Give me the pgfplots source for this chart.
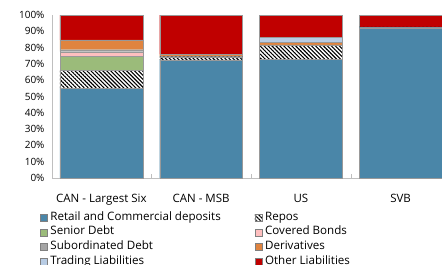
\documentclass[border=0pt]{standalone}
\usepackage{pgfplots}
\pgfplotsset{compat=1.18}
\usepackage{fontspec}
\setmainfont{Open Sans}
\usetikzlibrary{patterns.meta}
\definecolor{cRetail}{HTML}{4A86A8}
\definecolor{cSenior}{HTML}{9BBB7A}
\definecolor{cCovered}{HTML}{FFBFBF}
\definecolor{cSub}{HTML}{A5A5A5}
\definecolor{cDeriv}{HTML}{E0843F}
\definecolor{cTrading}{HTML}{B8CCE4}
\definecolor{cOther}{HTML}{C00000}
\definecolor{cAxis}{HTML}{BFBFBF}
\begin{document}
\begin{tikzpicture}
\begin{axis}[
  at={(0,0)}, anchor=south west,
  scale only axis, width=390pt, height=163pt,
  ybar stacked, bar width=0.83,
  xmin=-0.495, xmax=3.415, ymin=0, ymax=100,
  xtick={0,1,2,3},
  xticklabels={CAN - Largest Six, CAN - MSB, US, SVB},
  minor xtick={0.5,1.5,2.5},
  major x tick style={draw=none},
  minor tick length=4pt,
  minor x tick style={cAxis},
  ytick={0,10,...,100},
  yticklabel={\pgfmathprintnumber{\tick}\%},
  /pgf/number format/assume math mode=true,
  major y tick style={draw=none},
  axis x line*=bottom, axis y line*=left,
  axis line style={cAxis, -},
  yticklabel style={font=\fontsize{10}{12}\selectfont, text=black, xshift=-4pt},
  xticklabel style={font=\fontsize{11.5}{13}\selectfont, text=black, yshift=-13pt},
  tick align=inside,
  clip=false,
  legend columns=2,
  legend cell align=left,
  legend style={draw=none, fill=none, inner sep=0pt, at={(axis description cs:-0.031,-0.203)}, anchor=north west,
    font=\fontsize{11.6}{13}\selectfont, row sep=2.2pt,
    nodes={inner ysep=1pt, inner xsep=3pt, text height=8pt, text depth=2.5pt},
    /tikz/every even column/.append style={column sep=31pt}},
  legend image code/.code={\draw[#1, draw=gray] (0pt,-3.5pt) rectangle (7pt,3.5pt);},
  every axis plot/.append style={draw=gray!80, line width=0.3pt},
]
\addplot[fill=cRetail] coordinates {(0,55.0) (1,72.4) (2,72.8) (3,92.2)};
\addplot[pattern={Lines[angle=-45,distance=2.8pt,line width=1.1pt]}, pattern color=black] coordinates {(0,11.2) (1,2.0) (2,8.5) (3,0.5)};
\addplot[fill=cSenior] coordinates {(0,8.8) (1,0) (2,0) (3,0)};
\addplot[fill=cCovered] coordinates {(0,2.5) (1,0) (2,0) (3,0)};
\addplot[fill=cSub] coordinates {(0,1.2) (1,0.3) (2,0.3) (3,0)};
\addplot[fill=cDeriv] coordinates {(0,6.0) (1,1.3) (2,1.5) (3,0)};
\addplot[fill=cTrading] coordinates {(0,0) (1,0) (2,3.2) (3,0)};
\addplot[fill=cOther] coordinates {(0,15.3) (1,24.0) (2,13.7) (3,7.3)};
\legend{Retail and Commercial deposits, Repos, Senior Debt, Covered Bonds, Subordinated Debt, Derivatives, Trading Liabilities, Other Liabilities}
\end{axis}
\pgfresetboundingbox
\useasboundingbox (-52pt,-87pt) rectangle (390pt,178pt);
\end{tikzpicture}
\end{document}
